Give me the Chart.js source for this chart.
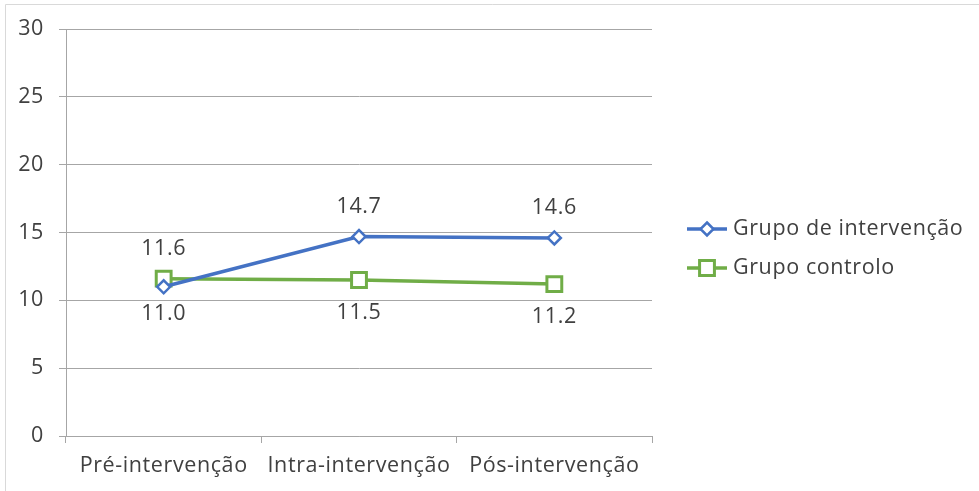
<!DOCTYPE html>
<html lang="pt">
<head>
  <meta charset="UTF-8">
  <title>Grupo de intervenção vs Grupo controlo</title>
  <script src="https://cdn.jsdelivr.net/npm/chart.js"></script>
  <style>
    body {
      margin: 0;
      background: #fff;
    }
    #wrap {
      width: 979px;
      height: 491px;
      position: relative;
    }
  </style>
</head>
<body>
  <div id="wrap">
    <canvas id="chart" width="979" height="491"></canvas>
  </div>

  <script>
    const categories = ["Pré-intervenção", "Intra-intervenção", "Pós-intervenção"];
    const intervencao = [11.0, 14.7, 14.6];
    const controlo = [11.6, 11.5, 11.2];
    const yTicks = [0, 5, 10, 15, 20, 25, 30];

    const FONT = "'Open Sans', sans-serif";
    const FONT_SIZE = 21.5;
    const TEXT = "#404040";
    const GRID = "#a6a6a6";
    const BLUE = "#4472C4";
    const GREEN = "#70AD47";

    // wider letter spacing for all canvas text
    const spacing = {
      id: 'spacing',
      beforeDraw(chart) {
        chart.ctx.letterSpacing = '0.6px';
      }
    };

    // value labels above/below each point
    const valueLabels = {
      id: 'valueLabels',
      afterDatasetsDraw(chart) {
        const ctx = chart.ctx;
        ctx.save();
        ctx.font = FONT_SIZE + "px " + FONT;
        ctx.fillStyle = TEXT;
        ctx.textAlign = 'center';
        ctx.textBaseline = 'middle';
        chart.data.datasets.forEach((ds, i) => {
          const meta = chart.getDatasetMeta(i);
          meta.data.forEach((pt, j) => {
            const dy = ds.labelSide[j] === 'above' ? -30 : ds.belowGap;
            ctx.fillText(ds.data[j].toFixed(1), pt.x, pt.y + dy);
          });
        });
        ctx.restore();
      }
    };

    // legend with line + marker samples, plus the outer frame
    const sideLegend = {
      id: 'sideLegend',
      afterDraw(chart) {
        const ctx = chart.ctx;
        const x0 = chart.chartArea.right + 35;
        ctx.save();
        chart.data.datasets.forEach((ds, i) => {
          const y = 229 + i * 39;
          ctx.strokeStyle = ds.borderColor;
          ctx.lineWidth = ds.borderWidth;
          ctx.beginPath();
          ctx.moveTo(x0, y);
          ctx.lineTo(x0 + 40, y);
          ctx.stroke();
          ctx.fillStyle = ds.pointBackgroundColor;
          ctx.strokeStyle = ds.borderColor;
          ctx.lineWidth = ds.pointBorderWidth;
          ctx.beginPath();
          const r = ds.pointRadius;
          if (ds.pointStyle === 'rect') {
            const s = r * Math.SQRT1_2;
            ctx.rect(x0 + 20 - s, y - s, 2 * s, 2 * s);
          } else {
            ctx.moveTo(x0 + 20, y - r);
            ctx.lineTo(x0 + 20 + r, y);
            ctx.lineTo(x0 + 20, y + r);
            ctx.lineTo(x0 + 20 - r, y);
            ctx.closePath();
          }
          ctx.fill();
          ctx.stroke();
          ctx.fillStyle = TEXT;
          ctx.font = FONT_SIZE + "px " + FONT;
          ctx.textAlign = 'left';
          ctx.textBaseline = 'middle';
          ctx.fillText(ds.label, x0 + 46, y);
        });
        ctx.strokeStyle = "#d9d9d9";
        ctx.lineWidth = 1;
        ctx.beginPath();
        ctx.moveTo(5.5, 491);
        ctx.lineTo(5.5, 4.5);
        ctx.lineTo(979, 4.5);
        ctx.stroke();
        ctx.restore();
      }
    };

    new Chart(document.getElementById("chart"), {
      type: 'line',
      data: {
        labels: categories,
        datasets: [
          {
            label: "Grupo de intervenção",
            data: intervencao,
            labelSide: ['below', 'above', 'above'],
            belowGap: 27,
            borderColor: BLUE,
            borderWidth: 3.5,
            pointStyle: 'rectRot',
            pointRadius: 6.5,
            pointBorderWidth: 2.5,
            pointBackgroundColor: '#fff',
            pointBorderColor: BLUE,
            tension: 0
          },
          {
            label: "Grupo controlo",
            data: controlo,
            labelSide: ['above', 'below', 'below'],
            belowGap: 33,
            borderColor: GREEN,
            borderWidth: 3.5,
            pointStyle: 'rect',
            pointRadius: 10.5,
            pointBorderWidth: 3,
            pointBackgroundColor: '#fff',
            pointBorderColor: GREEN,
            tension: 0
          }
        ]
      },
      options: {
        responsive: false,
        animation: false,
        layout: { padding: { top: 29, right: 327, left: 0, bottom: 0 } },
        plugins: {
          legend: { display: false },
          tooltip: { enabled: false }
        },
        scales: {
          x: {
            offset: true,
            grid: {
              offset: true,
              drawOnChartArea: false,
              drawTicks: true,
              tickLength: 7,
              color: GRID
            },
            border: { color: GRID },
            ticks: {
              color: TEXT,
              padding: 10,
              maxRotation: 0,
              font: { family: FONT, size: FONT_SIZE }
            },
            afterFit: s => { s.height = 55; }
          },
          y: {
            min: 0,
            max: 30,
            afterBuildTicks: s => { s.ticks = yTicks.map(v => ({ value: v })); },
            grid: { color: GRID, tickLength: 7 },
            border: { color: GRID },
            ticks: {
              color: TEXT,
              padding: 15,
              font: { family: FONT, size: FONT_SIZE }
            },
            afterFit: s => { s.width = 66; }
          }
        }
      },
      plugins: [spacing, valueLabels, sideLegend]
    });
  </script>
</body>
</html>
